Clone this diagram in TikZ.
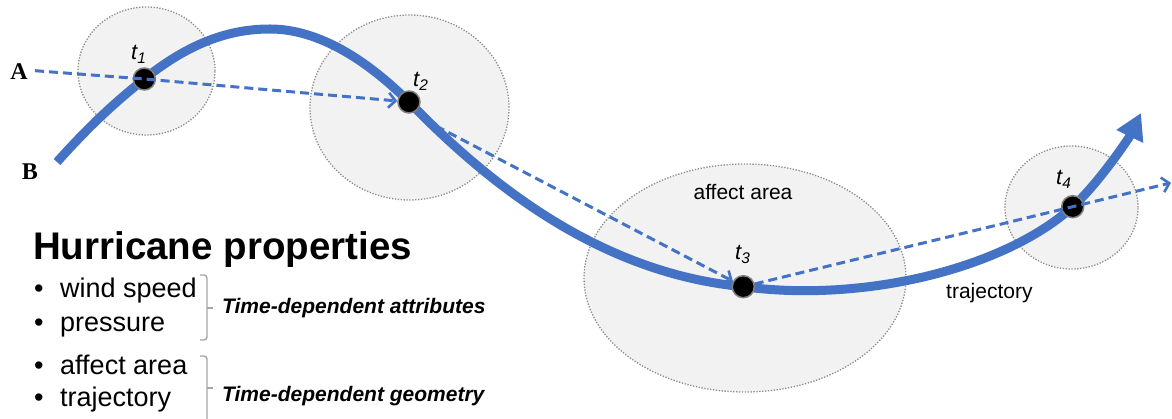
\documentclass[tikz,border=0pt]{standalone}
\usepackage{fontspec}
\setmainfont{Liberation Sans}
\newfontfamily\abfont{Liberation Serif}
\usetikzlibrary{arrows.meta,shapes.geometric}
\definecolor{trajblue}{HTML}{4472C4}
\definecolor{areafill}{HTML}{F2F2F2}
\definecolor{areaedge}{HTML}{8C8C8C}
\definecolor{brackgray}{HTML}{A6A6A6}
\begin{document}
\begin{tikzpicture}[x=1pt,y=-1pt,
  area/.style={ellipse, draw=areaedge, fill=areafill, line width=1.3pt,
    dash pattern=on 1.3pt off 1.6pt, inner sep=0pt},
  dot/.style={circle, fill=black, draw=gray, line width=1.5pt, minimum size=22pt, inner sep=0pt},
  tlab/.style={anchor=base west, font=\itshape\fontsize{22}{24}\selectfont, inner sep=0pt},
  dashline/.style={draw=trajblue, line width=3pt, dash pattern=on 9pt off 5pt,
    -{Straight Barb[length=7pt,width=15pt,line width=2.6pt]}},
  trajline/.style={draw=trajblue, line width=9pt, -{Triangle[length=26pt,width=28pt]}},
  brack/.style={draw=brackgray, line width=1.4pt, rounded corners=3pt},
  item/.style={anchor=base west, font=\fontsize{27}{30}\selectfont, inner sep=0pt},
  note/.style={anchor=base west, font=\bfseries\itshape\fontsize{21}{24}\selectfont, inner sep=0pt},
  plain/.style={font=\fontsize{21}{24}\selectfont, inner sep=0pt},
  ab/.style={font=\abfont\bfseries\fontsize{24}{26}\selectfont, inner sep=0pt}
]
\useasboundingbox (0,0) rectangle (1172,419);

% affect areas
\node[area, minimum width=137pt, minimum height=128pt] (a1) at (146.5,71) {};
\node[area, minimum width=199pt, minimum height=185pt] (a2) at (409.5,107.5) {};
\node[area, minimum width=322pt, minimum height=228pt] (a3) at (745,278) {};
\node[area, minimum width=133pt, minimum height=123pt] (a4) at (1071.5,207.5) {};

% trajectory way points
\coordinate (B0) at (57,162);
\coordinate (peak) at (270,29);
\coordinate (tip) at (1141,113);

% time points
\coordinate (c1) at (144.3,79);
\coordinate (c2) at (409,102);
\coordinate (c3) at (743.3,286.7);
\coordinate (c4) at (1072.7,206.7);

\draw[trajline] (B0) .. controls (85,131) and (109,107) .. (c1)
  .. controls (194,39) and (235,29) .. (peak)
  .. controls (320,29) and (369,62) .. (c2)
  .. controls (490,185) and (600,273) .. (c3)
  .. controls (865,303) and (1005,268) .. (c4)
  .. controls (1098,184) and (1129,138) .. (tip);

\node[dot] (t1) at (c1) {};
\node[dot] (t2) at (c2) {};
\node[dot] (t3) at (c3) {};
\node[dot] (t4) at (c4) {};

% dashed direct paths
\coordinate (A0) at (35,70.7);
\coordinate (t2out) at (436,126);
\coordinate (E) at (1171,182.8);
\draw[dashline] (A0) -- (t1.center) -- (t2);
\draw[dashline] (t2out) -- (t3);
\draw[dashline] (t3) -- (t4.center) -- (E);

% labels of time points
\node[tlab] (l1) at (131,60) {t\textsubscript{1}};
\node[tlab] (l2) at (413,87) {t\textsubscript{2}};
\node[tlab] (l3) at (735,260) {t\textsubscript{3}};
\node[tlab] (l4) at (1056,185) {t\textsubscript{4}};

\node[plain, anchor=base] (aff) at (743,199.5) {affect area};
\node[plain, anchor=base west] (trj) at (946,299) {trajectory};

\node[ab] (A) at (19,72) {A};
\node[ab] (B) at (30,172) {B};

% property list
\node[anchor=base west, font=\bfseries\fontsize{38.5}{42}\selectfont, inner sep=0pt] (title) at (33,260) {Hurricane properties};
\node[item] (i1) at (34,298) {\makebox[26pt][l]{•}wind speed};
\node[item] (i2) at (34,331) {\makebox[26pt][l]{•}pressure};
\node[item] (i3) at (34,374) {\makebox[26pt][l]{•}affect area};
\node[item] (i4) at (34,406) {\makebox[26pt][l]{•}trajectory};

\draw[brack] (200,275) -- (207,275) -- (207,340) -- (200,340);
\draw[brack] (207,308) -- (213,308);
\draw[brack] (200,356) -- (207,356) -- (207,420);
\draw[brack] (207,388) -- (213,388);

\node[note] (n1) at (222,314) {Time-dependent attributes};
\node[note] (n2) at (222,401) {Time-dependent geometry};
\end{tikzpicture}
\end{document}
